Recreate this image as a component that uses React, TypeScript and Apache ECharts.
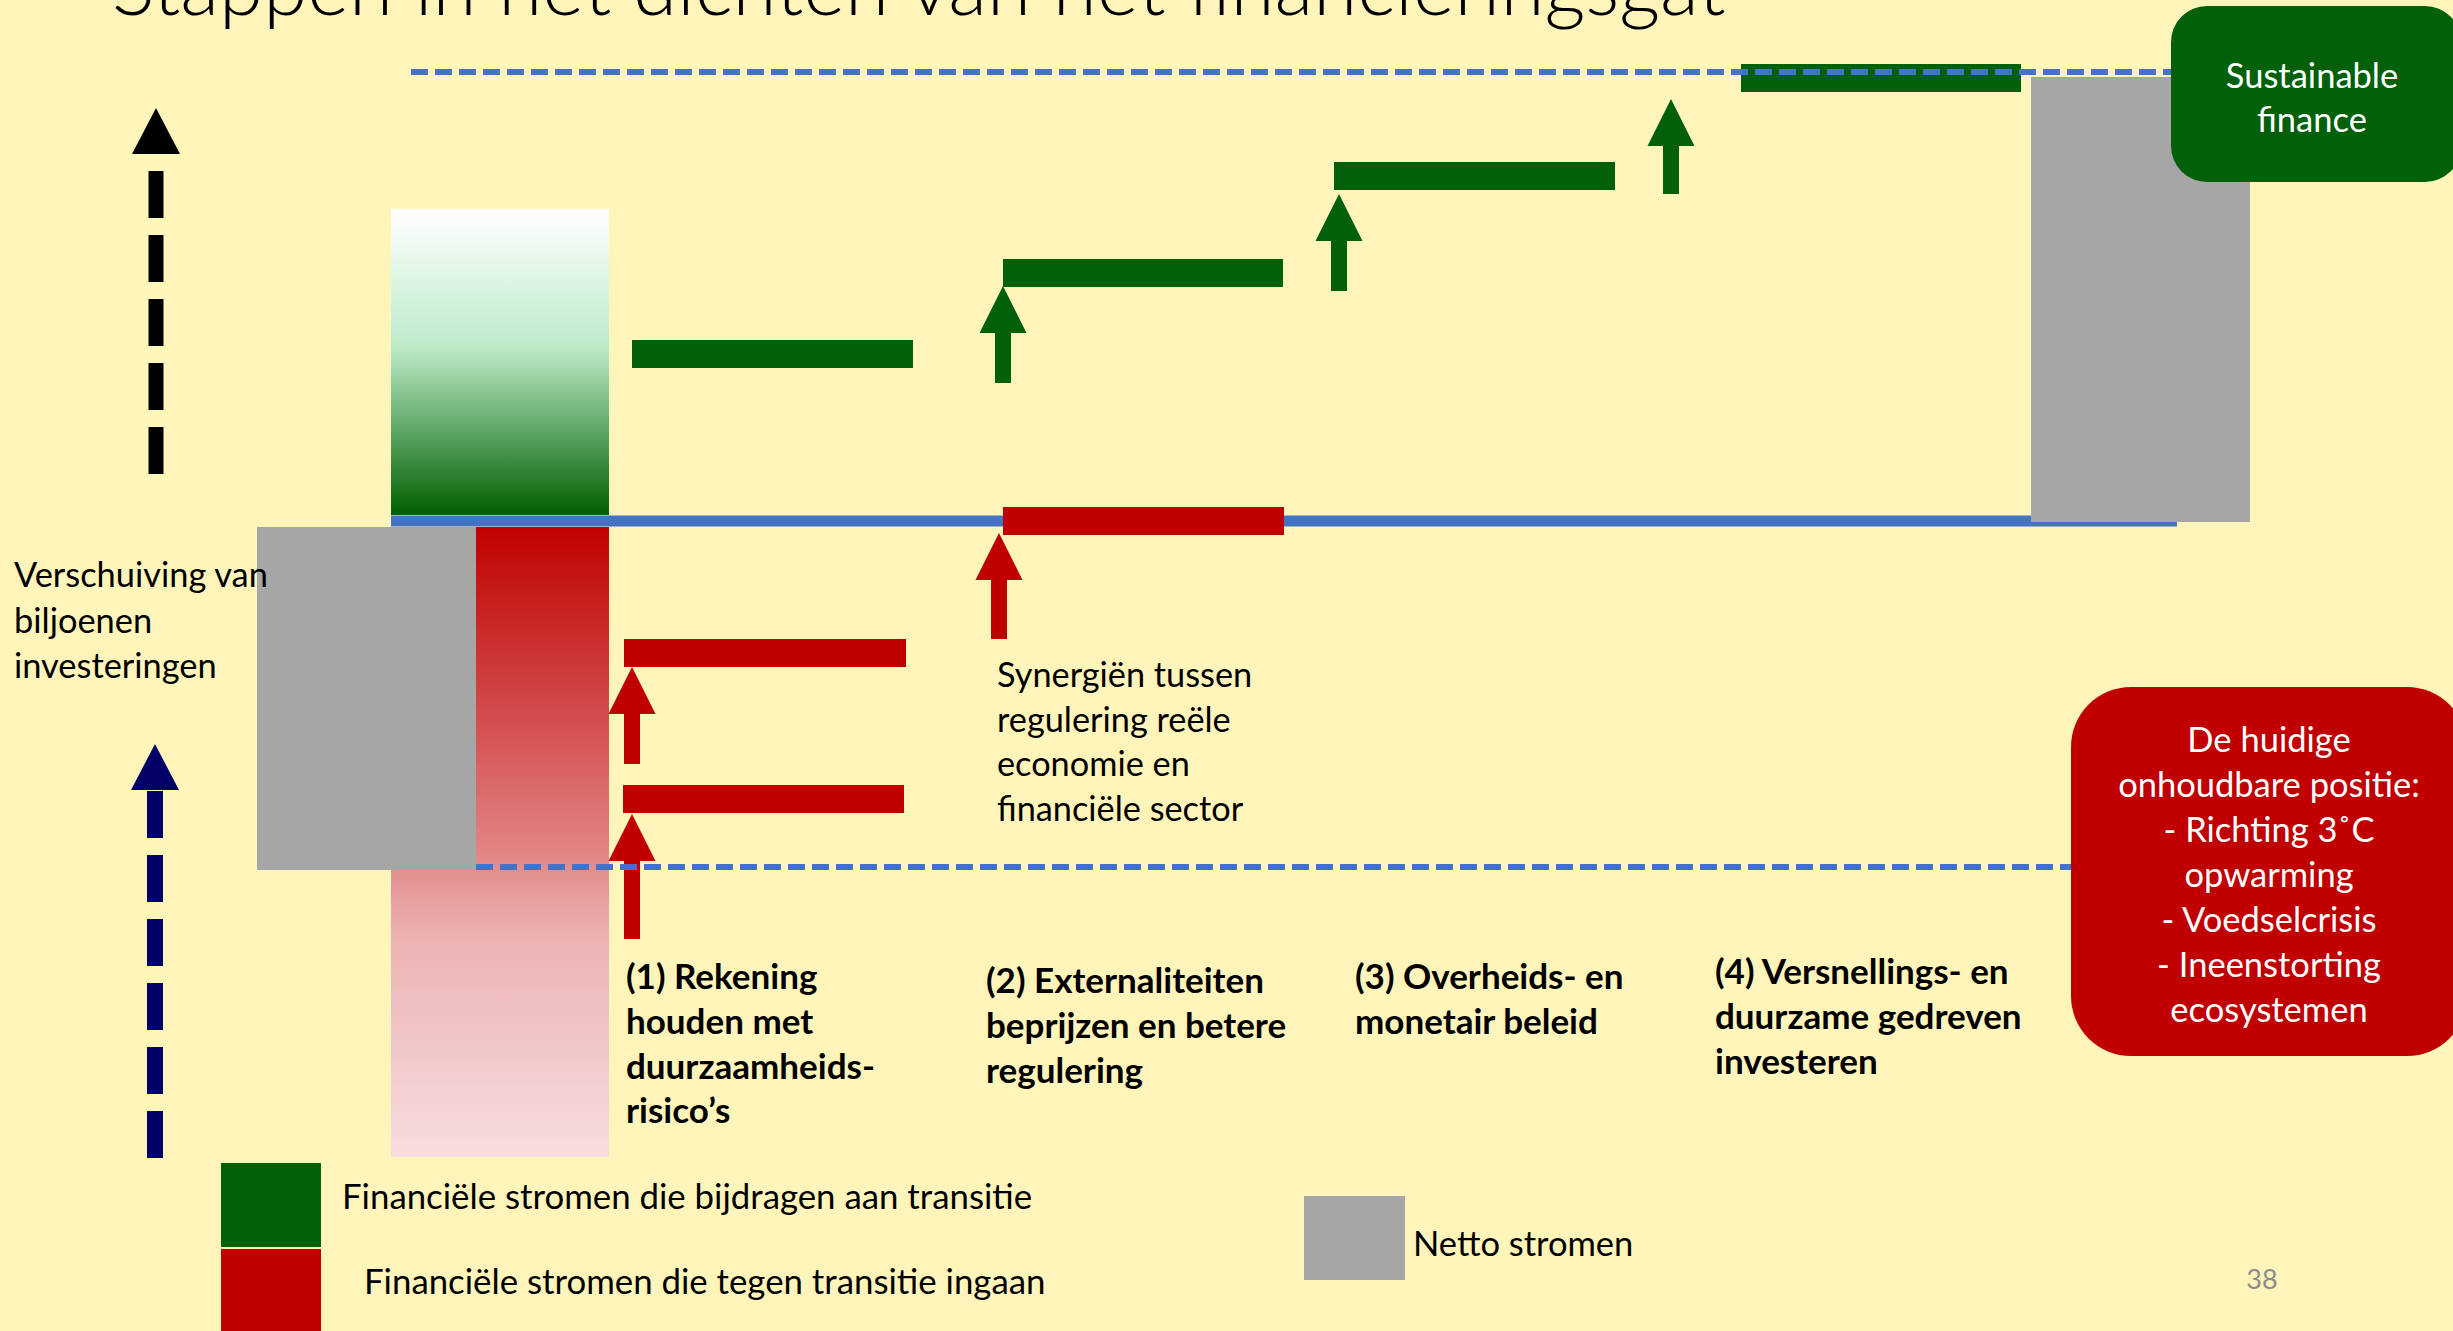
import React, { useEffect, useRef } from "react";
import * as echarts from "echarts";

const PAGE_W = 2453;
const PAGE_H = 1331;

// ---------- data (slide units: x to the right, y downward) ----------
const titleText = "Stappen in het dichten van het financieringsgat";

// gross flow column [x0, x1, yTop, yBottom]
const grossGreenFlow = [[391, 609, 209, 515]];
const grossRedFlow = [[391, 609, 527, 1157]];
// net flows [x0, x1, yTop, yBottom]
const netFlows = [
  [257, 476, 527, 870],
  [2031, 2250, 77, 522],
];
// step bars [x0, x1, y]
const greenSteps = [
  [632, 913, 354],
  [1003, 1283, 273],
  [1334, 1615, 176],
  [1741, 2021, 78],
];
const redSteps = [
  [624, 906, 653],
  [623, 904, 799],
  [1003, 1284, 521],
];
// arrows [x, yTip, yTail]
const greenArrows = [
  [1003, 286, 383],
  [1339, 194, 291],
  [1671, 99, 194],
];
const redArrows = [
  [632, 667, 764],
  [632, 814, 939],
  [999, 533, 639],
];
// reference levels [x0, x1, y]
const baselineLevel = [[391, 2177, 521]];
const dashedLevels = [
  [411, 2180, 72],
  [476, 2072, 867],
];
// dashed arrows [x, yTip, yShaftStart, yShaftEnd]
const upArrowBlack = [[156, 108, 171, 474]];
const upArrowNavy = [[155, 744, 791, 1160]];

// ---------- texts ----------
const sideLabel = ["Verschuiving van", "biljoenen", "investeringen"];
const synergyLabel = ["Synergiën tussen", "regulering reële", "economie en", "financiële sector"];
const stepLabels = [
  ["(1) Rekening", "houden met", "duurzaamheids-", "risico’s"],
  ["(2) Externaliteiten", "beprijzen en betere", "regulering"],
  ["(3) Overheids- en", "monetair beleid"],
  ["(4) Versnellings- en", "duurzame gedreven", "investeren"],
];
const goalLabel = ["Sustainable", "finance"];
const currentLabel = [
  "De huidige",
  "onhoudbare positie:",
  "- Richting 3˚C",
  "opwarming",
  "- Voedselcrisis",
  "- Ineenstorting",
  "ecosystemen",
];
const legendLabels = [
  "Financiële stromen die bijdragen aan transitie",
  "Financiële stromen die tegen transitie ingaan",
  "Netto stromen",
];
const pageNumber = "38";

// ---------- styles ----------
const BG = "#FFF5BA";
const GREEN = "#02600A";
const RED = "#C00000";
const GREY = "#A6A6A6";
const BLUE = "#4472C4";
const NAVY = "#000066";
const FONT = "Lato, 'Open Sans', sans-serif";

function blockSeries(data: number[][], fill: any, z: number) {
  return {
    type: "custom",
    z,
    silent: true,
    data,
    renderItem: (_p: any, api: any) => {
      const a = api.coord([api.value(0), api.value(2)]);
      const b = api.coord([api.value(1), api.value(3)]);
      return {
        type: "rect",
        shape: { x: a[0], y: a[1], width: b[0] - a[0], height: b[1] - a[1] },
        style: { fill },
      };
    },
  };
}

function stepSeries(data: number[][], fill: string, thickness: number, z: number) {
  return {
    type: "custom",
    z,
    silent: true,
    data,
    renderItem: (_p: any, api: any) => {
      const a = api.coord([api.value(0), api.value(2)]);
      const b = api.coord([api.value(1), api.value(2)]);
      return {
        type: "rect",
        shape: { x: a[0], y: a[1] - thickness / 2, width: b[0] - a[0], height: thickness },
        style: { fill },
      };
    },
  };
}

function arrowSeries(data: number[][], fill: string, z: number) {
  const headLen = 47;
  const hw = 23.5;
  const sw = 8;
  return {
    type: "custom",
    z,
    silent: true,
    data,
    renderItem: (_p: any, api: any) => {
      const tip = api.coord([api.value(0), api.value(1)]);
      const tail = api.coord([api.value(0), api.value(2)]);
      const x = tip[0];
      const hb = tip[1] + headLen;
      return {
        type: "polygon",
        shape: {
          points: [
            [x, tip[1]],
            [x + hw, hb],
            [x + sw, hb],
            [x + sw, tail[1]],
            [x - sw, tail[1]],
            [x - sw, hb],
            [x - hw, hb],
          ],
        },
        style: { fill },
      };
    },
  };
}

function levelSeries(data: number[][], stroke: string, width: number, dash: number[] | null, z: number) {
  return {
    type: "custom",
    z,
    silent: true,
    data,
    renderItem: (_p: any, api: any) => {
      const a = api.coord([api.value(0), api.value(2)]);
      const b = api.coord([api.value(1), api.value(2)]);
      return {
        type: "line",
        shape: { x1: a[0], y1: a[1], x2: b[0], y2: b[1] },
        style: dash ? { stroke, lineWidth: width, lineDash: dash } : { stroke, lineWidth: width },
      };
    },
  };
}

function dashedArrowSeries(data: number[][], fill: string, shaftW: number, z: number) {
  return {
    type: "custom",
    z,
    silent: true,
    data,
    renderItem: (_p: any, api: any) => {
      const tip = api.coord([api.value(0), api.value(1)]);
      const s0 = api.coord([api.value(0), api.value(2)]);
      const s1 = api.coord([api.value(0), api.value(3)]);
      return {
        type: "group",
        children: [
          {
            type: "polygon",
            shape: {
              points: [
                [tip[0], tip[1]],
                [tip[0] + 24, tip[1] + 46],
                [tip[0] - 24, tip[1] + 46],
              ],
            },
            style: { fill },
          },
          {
            type: "line",
            shape: { x1: s0[0], y1: s0[1], x2: s1[0], y2: s1[1] },
            style: { stroke: fill, lineWidth: shaftW, lineDash: [47, 17] },
          },
        ],
      };
    },
  };
}

function textEl(lines: string[], x: number, y: number, opts: any) {
  return {
    type: "text",
    x,
    y,
    z: 200,
    silent: true,
    style: {
      text: lines.join("\n"),
      fill: opts.fill || "#000000",
      fontSize: opts.fontSize || 34.5,
      fontFamily: FONT,
      fontWeight: opts.fontWeight || "normal",
      lineHeight: opts.lineHeight || 45,
      align: opts.align || "left",
      verticalAlign: opts.verticalAlign || "top",
    },
  };
}

export default function App() {
  const ref = useRef<HTMLDivElement>(null);

  useEffect(() => {
    if (!ref.current) return;
    const chart = echarts.init(ref.current, undefined, { renderer: "svg" });

    const greenGrad = new echarts.graphic.LinearGradient(0, 0, 0, 1, [
      { offset: 0, color: "#FFFFFF" },
      { offset: 0.45, color: "#BDEBC9" },
      { offset: 1, color: "#005F00" },
    ]);
    const redGrad = new echarts.graphic.LinearGradient(0, 0, 0, 1, [
      { offset: 0, color: "#C00000" },
      { offset: 0.5, color: "#E08080" },
      { offset: 0.65, color: "#ECB2B2" },
      { offset: 1, color: "#F7DDE0" },
    ]);

    const stepX = [626, 986, 1355, 1715];
    const stepTop = [953, 957, 953, 948];

    const option: any = {
      animation: false,
      backgroundColor: BG,
      grid: { left: 0, right: 0, top: 0, bottom: 0, containLabel: false },
      xAxis: { type: "value", min: 0, max: PAGE_W, show: false },
      yAxis: { type: "value", min: 0, max: PAGE_H, inverse: true, show: false },
      series: [
        blockSeries(grossGreenFlow, greenGrad, 2),
        blockSeries(grossRedFlow, redGrad, 2),
        levelSeries(baselineLevel, BLUE, 11, null, 3),
        blockSeries(netFlows, GREY, 4),
        stepSeries(greenSteps, GREEN, 28, 5),
        stepSeries(redSteps, RED, 28, 5),
        arrowSeries(greenArrows, GREEN, 5),
        arrowSeries(redArrows, RED, 5),
        levelSeries(dashedLevels, BLUE, 6, [17, 7], 6),
        dashedArrowSeries(upArrowBlack, "#000000", 15, 6),
        dashedArrowSeries(upArrowNavy, NAVY, 16, 6),
      ],
      graphic: {
        elements: [
          // title (cut at the top of the slide, as in the original)
          {
            type: "text",
            x: 112,
            y: 24,
            z: 200,
            silent: true,
            style: {
              text: titleText,
              fill: "#000000",
              fontSize: 80,
              fontFamily: FONT,
              fontWeight: 300,
              align: "left",
              verticalAlign: "bottom",
            },
          },
          // goal box
          {
            type: "rect",
            z: 150,
            silent: true,
            shape: { x: 2171, y: 6, width: 290, height: 176, r: 36 },
            style: { fill: GREEN },
          },
          textEl(goalLabel, 2312, 52, { fill: "#FFFFFF", fontSize: 34.5, lineHeight: 44, align: "center" }),
          // current position box
          {
            type: "rect",
            z: 150,
            silent: true,
            shape: { x: 2071, y: 687, width: 396, height: 369, r: 60 },
            style: { fill: RED },
          },
          textEl(currentLabel, 2269, 716, { fill: "#FFFFFF", fontSize: 34.5, lineHeight: 45, align: "center" }),
          // side label
          textEl(sideLabel, 14, 551, { fontSize: 34.4, lineHeight: 45.5 }),
          // synergy label
          textEl(synergyLabel, 997, 651, { fontSize: 34.3, lineHeight: 44.7 }),
          // step labels
          ...stepLabels.map((lines, i) =>
            textEl(lines, stepX[i], stepTop[i], { fontSize: 35, fontWeight: "bold", lineHeight: 44.7 })
          ),
          // legend
          {
            type: "rect",
            z: 150,
            silent: true,
            shape: { x: 221, y: 1163, width: 100, height: 84 },
            style: { fill: GREEN },
          },
          {
            type: "rect",
            z: 150,
            silent: true,
            shape: { x: 221, y: 1249, width: 100, height: 90 },
            style: { fill: RED },
          },
          {
            type: "rect",
            z: 150,
            silent: true,
            shape: { x: 1304, y: 1196, width: 101, height: 84 },
            style: { fill: GREY },
          },
          textEl([legendLabels[0]], 342, 1195, { fontSize: 34.8, verticalAlign: "middle" }),
          textEl([legendLabels[1]], 364, 1280, { fontSize: 34.8, verticalAlign: "middle" }),
          textEl([legendLabels[2]], 1413, 1242, { fontSize: 34.5, verticalAlign: "middle" }),
          textEl([pageNumber], 2262, 1278, {
            fill: "#8C8C8C",
            fontSize: 27,
            align: "center",
            verticalAlign: "middle",
          }),
        ],
      },
    };

    chart.setOption(option);
    return () => {
      chart.dispose();
    };
  }, []);

  return (
    <div
      ref={ref}
      style={{
        position: "fixed",
        left: 0,
        top: 0,
        width: PAGE_W,
        height: PAGE_H,
        background: BG,
      }}
    />
  );
}
